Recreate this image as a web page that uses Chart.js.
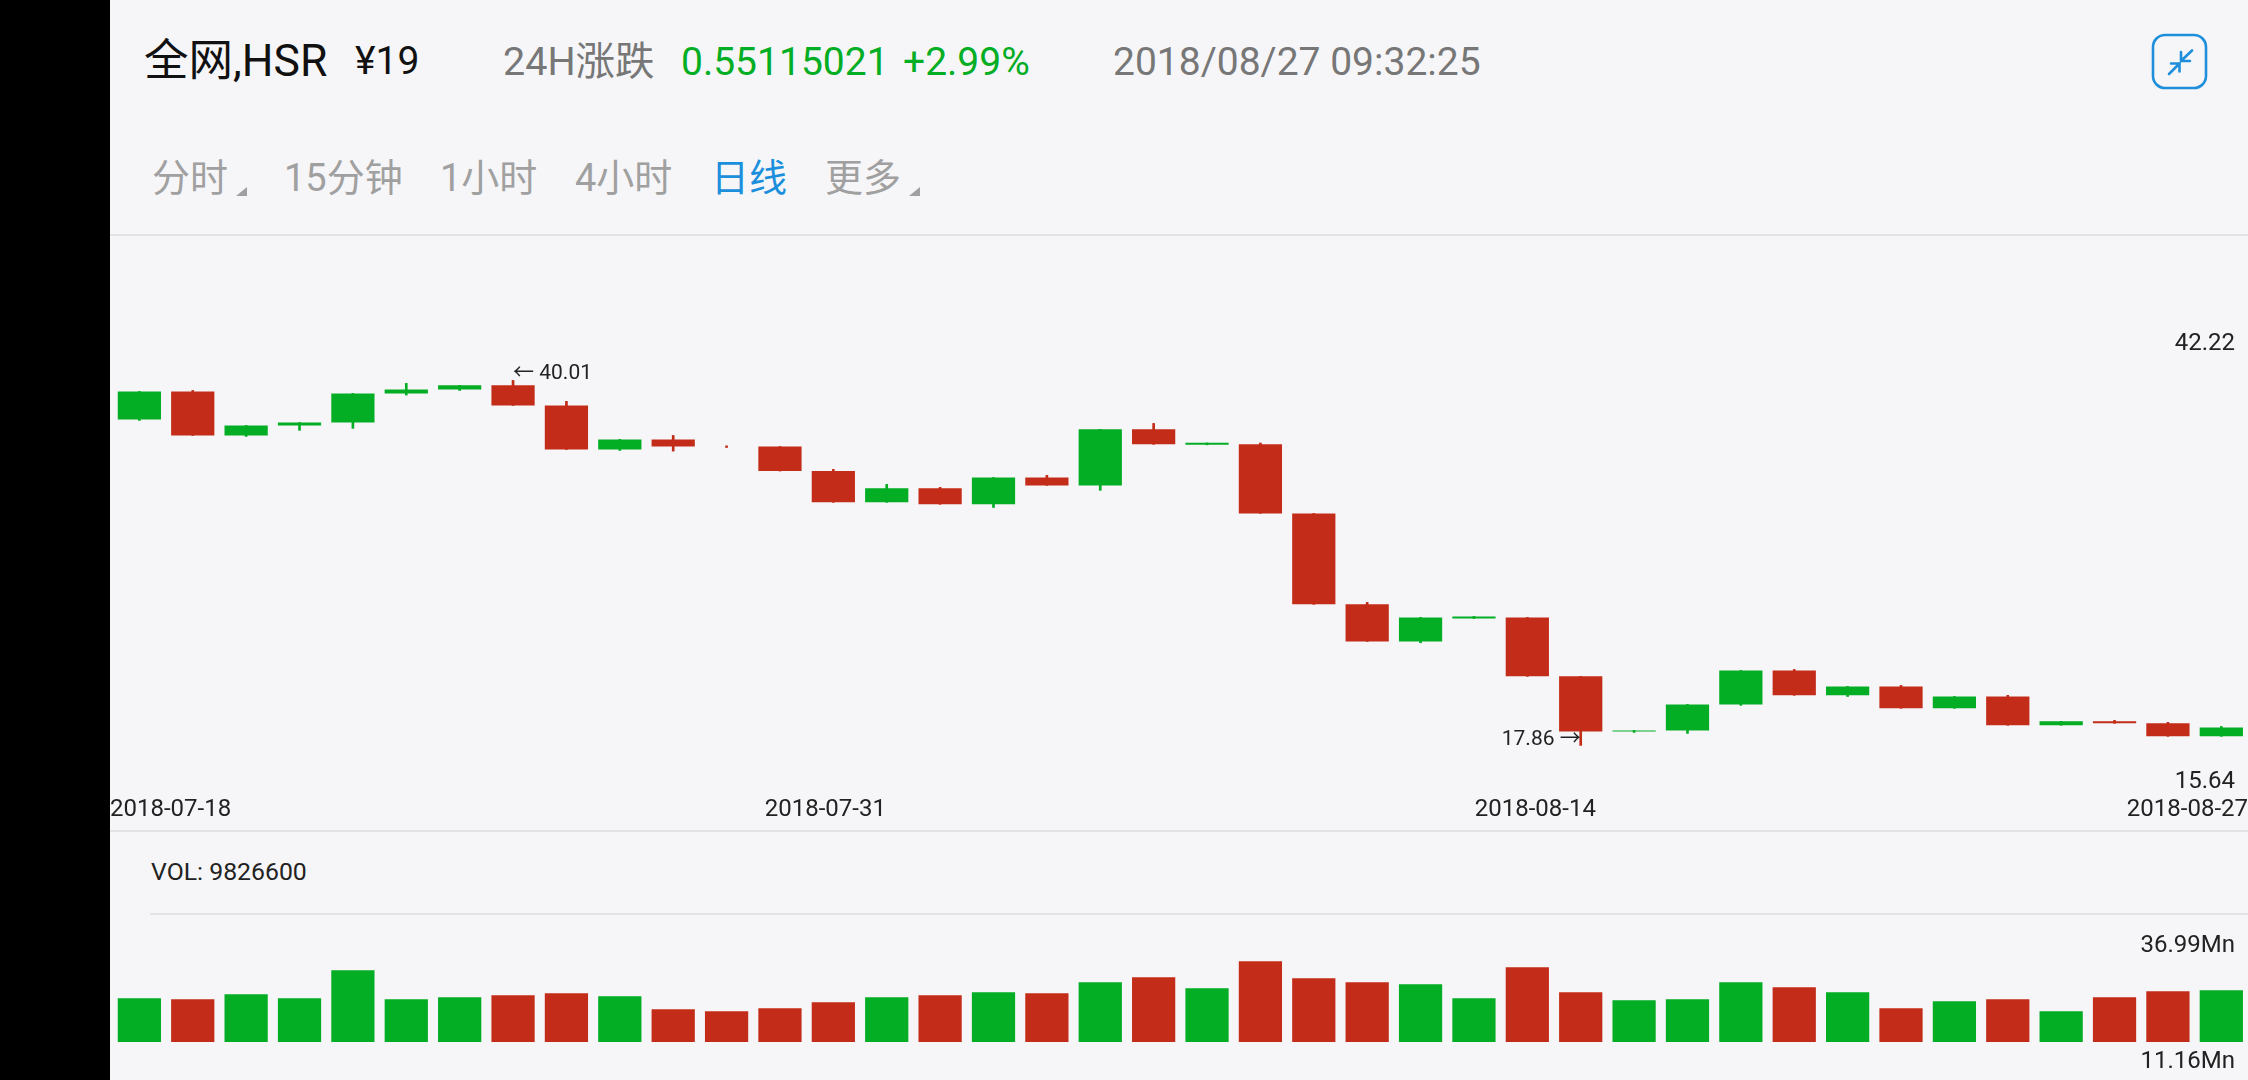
<!DOCTYPE html>
<html>
<head>
<meta charset="utf-8">
<title>HSR</title>
<script src="https://cdn.jsdelivr.net/npm/chart.js@4/dist/chart.umd.min.js"></script>
<style>
    html, body { margin: 0; padding: 0; width: 2248px; height: 1080px; overflow: hidden; background: #f6f6f8; }
    body { font-family: Roboto, "Noto Sans CJK SC", sans-serif; position: relative; }
    .strip { position: absolute; left: 0; top: 0; width: 110px; height: 1080px; background: #000; z-index: 3; }
    .txt { position: absolute; white-space: nowrap; line-height: 1; }
    .rule { position: absolute; height: 2px; right: 0; background: #e3e3e5; }
    .tab { font-size: 38px; color: #a0a0a0; top: 159px; }
    .tri { position: absolute; width: 0; height: 0; border-left: 11px solid transparent; border-bottom: 9px solid #a0a0a0; top: 187px; }
    canvas { position: absolute; left: 110px; }
</style>
</head>
<body>
<div class="strip"></div>

<div class="txt" style="left:144px;top:39px;font-size:44.5px;color:#111">全网,HSR</div>
<div class="txt" style="left:355px;top:42px;font-size:39px;color:#111">¥19</div>
<div class="txt" style="left:503px;top:42px;font-size:39.5px;color:#777">24H涨跌</div>
<div class="txt" style="left:681px;top:43px;font-size:39px;color:#03ad24">0.55115021</div>
<div class="txt" style="left:903px;top:43px;font-size:39px;color:#03ad24">+2.99%</div>
<div class="txt" style="left:1113px;top:43px;font-size:39px;color:#777">2018/08/27 09:32:25</div>

<svg style="position:absolute;left:2100px;top:0" width="148" height="120" viewBox="0 0 148 120" fill="none" stroke="#1f8fdb" stroke-linecap="round">
    <rect x="53" y="35" width="53" height="53" rx="12" stroke-width="2.6"/>
    <path d="M69 74 L79.5 63.5 M71 63.5 L79.5 63.5 L79.5 71.5 M92 50.5 L81 61 M81 52 L81 61 L90 61" stroke-width="2.6"/>
</svg>

<div class="txt tab" style="left:152px">分时</div>
<div class="tri" style="left:236px"></div>
<div class="txt tab" style="left:284px">15分钟</div>
<div class="txt tab" style="left:440px">1小时</div>
<div class="txt tab" style="left:575px">4小时</div>
<div class="txt tab" style="left:711px;color:#1b8fdc">日线</div>
<div class="txt tab" style="left:825px">更多</div>
<div class="tri" style="left:909px"></div>

<div class="rule" style="left:110px;top:234px"></div>
<div class="rule" style="left:110px;top:830px"></div>
<div class="rule" style="left:150px;top:913px"></div>
<div class="txt" style="left:151px;top:860px;font-size:24.8px;color:#222">VOL: 9826600</div>

<canvas id="price-chart" width="2138" height="506" style="top:324px"></canvas>
<canvas id="volume-chart" width="2138" height="150" style="top:930px"></canvas>

<script>
// daily candles
const opens = [37.64, 39.34, 36.67, 37.28, 37.46, 39.22, 39.46, 39.71, 38.49, 35.82,
    36.43, 36.00, 36.00, 34.51, 32.61, 33.46, 32.49, 34.12, 33.64, 37.04,
    36.10, 36.13, 31.94, 26.42, 24.17, 25.56, 25.63, 22.05, 18.71, 18.77,
    20.35, 22.41, 20.90, 21.44, 20.11, 20.83, 19.08, 19.32, 19.20, 18.41];
const closes = [39.34, 36.67, 37.28, 37.46, 39.22, 39.46, 39.71, 38.49, 35.82, 36.43,
    36.00, 36.00, 34.51, 32.61, 33.46, 32.49, 34.12, 33.64, 37.04, 36.13,
    36.22, 31.94, 26.42, 24.17, 25.63, 25.69, 22.05, 18.71, 18.77, 20.35,
    22.41, 20.90, 21.44, 20.11, 20.83, 19.08, 19.32, 19.20, 18.41, 18.95];
const highs = [39.34, 39.40, 37.28, 37.46, 39.22, 39.83, 39.71, 40.01, 38.74, 36.43,
    36.67, 36.04, 36.00, 34.61, 33.70, 33.52, 34.12, 34.25, 37.04, 37.40,
    36.22, 36.21, 31.94, 26.54, 25.63, 25.69, 25.63, 22.05, 18.77, 20.35,
    22.41, 22.47, 21.44, 21.50, 20.83, 20.90, 19.32, 19.38, 19.26, 19.01];
const lows = [37.58, 36.67, 36.61, 36.98, 37.10, 39.12, 39.40, 38.49, 35.82, 35.76,
    35.72, 35.94, 34.51, 32.61, 32.61, 32.49, 32.30, 33.64, 33.34, 36.13,
    36.10, 31.94, 26.42, 24.17, 24.09, 25.56, 22.05, 17.86, 18.65, 18.59,
    20.29, 20.90, 20.83, 20.11, 20.11, 19.08, 19.08, 19.20, 18.41, 18.41];
// volume in millions
const volumes = [20.03, 19.57, 21.86, 20.03, 32.86, 19.57, 20.49, 21.40, 22.32, 20.94,
    14.99, 14.07, 15.44, 18.19, 20.49, 21.40, 22.78, 22.32, 27.36, 29.65,
    24.61, 36.99, 29.19, 27.36, 26.44, 20.03, 34.23, 22.78, 19.11, 19.57,
    27.36, 25.07, 22.78, 15.44, 18.65, 19.57, 14.07, 20.49, 23.24, 23.69];

const dateLabels = ['2018-07-18', '2018-07-31', '2018-08-14', '2018-08-27'];
const dateTicks = [-0.55, 12.85, 26.15, 39.5];
const priceTicks = [15.64, 42.22];
const volumeLabels = ['11.16Mn', '36.99Mn'];
const volumeTicks = [-9.17, 44.0];

const GREEN = '#03ad24';
const RED = '#c32c18';
const FONT = 'Roboto, "Noto Sans CJK SC", sans-serif';

const candleColors = closes.map((c, i) => c > opens[i] ? GREEN : RED);

// ← 40.01 and 17.86 → next to the extremes
const extremesPlugin = {
    id: 'extremes',
    afterDatasetsDraw(chart) {
        const { ctx, scales } = chart;
        const hi = Math.max(...highs);
        const lo = Math.min(...lows);
        ctx.save();
        ctx.font = '21px ' + FONT;
        ctx.fillStyle = '#222';
        ctx.textBaseline = 'middle';
        ctx.textAlign = 'left';
        ctx.fillText('← ' + hi.toFixed(2), scales.x.getPixelForValue(highs.indexOf(hi)), scales.y.getPixelForValue(hi) - 7);
        ctx.textAlign = 'right';
        ctx.fillText(lo.toFixed(2) + ' →', scales.x.getPixelForValue(lows.indexOf(lo)), scales.y.getPixelForValue(lo) - 6);
        ctx.restore();
    }
};

const xRange = { min: -0.55, max: 39.5, offset: false };

new Chart(document.getElementById('price-chart').getContext('2d'), {
    type: 'bar',
    data: {
        datasets: [
            {
                label: 'High-Low',
                data: highs.map((h, i) => ({ x: i, y: [lows[i], h] })),
                backgroundColor: candleColors,
                barThickness: 2,
                grouped: false
            },
            {
                label: 'Open-Close',
                data: opens.map((o, i) => ({ x: i, y: [o, closes[i]] })),
                backgroundColor: candleColors,
                barPercentage: 0.81,
                categoryPercentage: 1,
                grouped: false
            }
        ]
    },
    options: {
        responsive: false,
        animation: false,
        devicePixelRatio: 1,
        layout: { autoPadding: false, padding: { top: 20 } },
        plugins: { legend: { display: false }, tooltip: { enabled: false } },
        scales: {
            x: {
                type: 'linear',
                ...xRange,
                // tick padding also insets the plot when align is inner, so the gap comes from tickLength
                grid: { display: false, tickLength: 14 },
                border: { display: false },
                afterFit: axis => { axis.height = 48; },
                afterBuildTicks: axis => { axis.ticks = dateTicks.map(v => ({ value: v })); },
                ticks: {
                    align: 'inner',
                    autoSkip: false,
                    maxRotation: 0,
                    padding: 0,
                    color: '#222',
                    font: { family: FONT, size: 24 },
                    callback: value => dateLabels[dateTicks.indexOf(value)]
                }
            },
            y: {
                position: 'right',
                min: priceTicks[0],
                max: priceTicks[1],
                grid: { display: false },
                border: { display: false },
                afterFit: axis => { axis.width = 0; },
                afterBuildTicks: axis => { axis.ticks = priceTicks.map(v => ({ value: v })); },
                ticks: {
                    mirror: true,
                    padding: -13,
                    color: '#222',
                    font: { family: FONT, size: 24 },
                    callback: value => value.toFixed(2)
                }
            }
        }
    },
    plugins: [extremesPlugin]
});

new Chart(document.getElementById('volume-chart').getContext('2d'), {
    type: 'bar',
    data: {
        datasets: [{
            label: 'VOL',
            data: volumes.map((v, i) => ({ x: i, y: v })),
            backgroundColor: candleColors,
            barPercentage: 0.81,
            categoryPercentage: 1
        }]
    },
    options: {
        responsive: false,
        animation: false,
        devicePixelRatio: 1,
        layout: { autoPadding: false, padding: { top: 16, bottom: 18 } },
        plugins: { legend: { display: false }, tooltip: { enabled: false } },
        scales: {
            x: { type: 'linear', ...xRange, display: false },
            y: {
                position: 'right',
                min: volumeTicks[0],
                max: volumeTicks[1],
                grid: { display: false },
                border: { display: false },
                afterFit: axis => { axis.width = 0; },
                afterBuildTicks: axis => { axis.ticks = volumeTicks.map(v => ({ value: v })); },
                ticks: {
                    mirror: true,
                    padding: -13,
                    color: '#222',
                    font: { family: FONT, size: 24 },
                    callback: value => volumeLabels[volumeTicks.indexOf(value)]
                }
            }
        }
    }
});
</script>
</body>
</html>
